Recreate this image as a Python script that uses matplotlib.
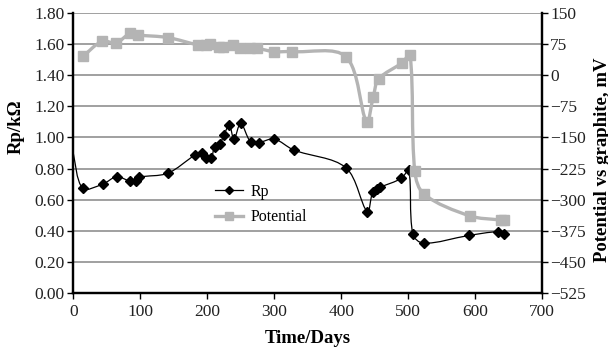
import matplotlib.pyplot as plt
import numpy as np
from matplotlib.path import Path
from matplotlib.patches import PathPatch
from matplotlib.lines import Line2D

plt.rcParams['font.family'] = ['Liberation Serif', 'DejaVu Serif']

### Données

rp_days = [0, 14, 44, 65, 84, 94, 98, 141, 182, 192, 198, 206, 211, 219, 225, 233, 240,
           250, 265, 277, 300, 329, 407, 439, 447, 453, 458, 490, 501, 507, 523, 591, 634, 643]
rp = [0.90, 0.673, 0.70, 0.748, 0.72, 0.72, 0.744, 0.77, 0.887, 0.898, 0.866, 0.866, 0.94,
      0.96, 1.016, 1.08, 0.99, 1.09, 0.97, 0.967, 0.99, 0.92, 0.806, 0.523, 0.65, 0.67, 0.68,
      0.737, 0.79, 0.38, 0.32, 0.37, 0.394, 0.377]

pot_days = [15, 43, 64, 85, 97, 141, 187, 198, 204, 218, 224, 239, 249, 264, 274, 300, 327,
            407, 438, 448, 456, 491, 503, 510, 524, 592, 638, 643]
pot = [46, 82, 78, 101, 97, 91, 73, 73, 76, 69, 67, 73, 65, 65, 65, 57, 57,
       45, -112, -52, -9, 30, 49, -232, -287, -339, -349, -349]


### Courbe lissée (type Excel, calculée en pixels)

def smooth_path(axis, x, y):
    tr = axis.transData
    p = tr.transform(np.column_stack([x, y]))
    n = len(p)
    d = np.hypot(*np.diff(p, axis=0).T)
    verts = [p[0]]
    codes = [Path.MOVETO]
    for i in range(n - 1):
        i0 = max(i - 1, 0)
        i3 = min(i + 2, n - 1)
        dprev = d[i - 1] if i > 0 else d[i]
        dnext = d[i + 1] if i + 1 < n - 1 else d[i]
        t1 = p[i + 1] - p[i0]
        t2 = p[i3] - p[i]
        c1 = p[i] + t1 * d[i] / (dprev + d[i]) / 3
        c2 = p[i + 1] - t2 * d[i] / (d[i] + dnext) / 3
        verts += [c1, c2, p[i + 1]]
        codes += [Path.CURVE4] * 3
    verts = tr.inverted().transform(np.array(verts))
    return Path(verts, codes)


ftsize = 12.5
lblsize = 13.5
grey = '#b4b4b4'

fig = plt.figure(figsize=(6.08, 3.53), dpi=100)
ax = fig.add_axes([0.1205, 0.170, 0.771, 0.793])
ax2 = ax.twinx()

ax.set_xlim(0, 700)
ax.set_ylim(0, 1.8)
ax2.set_ylim(-525, 150)
ax.set_xticks(np.arange(0, 701, 100))
ax.set_yticks(np.arange(0, 1.81, 0.2))
ax.set_yticklabels(['%.2f' % v for v in np.arange(0, 1.81, 0.2)])
ax2.set_yticks(np.arange(-525, 151, 75))

for v in np.arange(0.2, 1.81, 0.2):
    ax.axhline(v, color='#999999', lw=1.3, zorder=0)

# Rp
ax.add_patch(PathPatch(smooth_path(ax, rp_days, rp), fc='none', ec='black', lw=0.9, zorder=3))
ax.plot(rp_days[1:], rp[1:], linestyle='', marker='D', ms=5.5, color='black', zorder=4)

# Potential
ax2.add_patch(PathPatch(smooth_path(ax2, pot_days, pot), fc='none', ec=grey, lw=2.4, zorder=3))
ax2.plot(pot_days, pot, linestyle='', marker='s', ms=7, color=grey, zorder=4)

for a in (ax, ax2):
    a.spines['top'].set_visible(False)
    a.spines['left'].set_linewidth(1.6)
    a.spines['right'].set_linewidth(1.6)
    a.spines['bottom'].set_linewidth(1.6)
    a.tick_params(direction='out', length=4, width=1, labelsize=ftsize, pad=2,
                  colors='black', labelcolor='#222222')
ax.tick_params(axis='x', pad=4)

ax.set_xlabel('Time/Days', fontsize=lblsize, fontweight='bold', labelpad=7)
ax.set_ylabel('Rp/k\u03a9', fontsize=lblsize, fontweight='bold')
ax.yaxis.set_label_coords(-0.103, 0.593)
ax2.set_ylabel('Potential vs graphite, mV', fontsize=lblsize, fontweight='bold')
ax2.yaxis.set_label_coords(1.111, 0.475)

h1 = Line2D([], [], color='black', lw=0.9, marker='D', ms=4.5)
h2 = Line2D([], [], color=grey, lw=2.4, marker='s', ms=5.5)
ax.legend([h1, h2], ['Rp', 'Potential'], loc='upper left', bbox_to_anchor=(0.303, 0.39),
          frameon=False, fontsize=11.5, handlelength=1.75, labelspacing=0.6,
          handletextpad=0.45, borderpad=0, borderaxespad=0)

plt.savefig('out.png', dpi=100)
